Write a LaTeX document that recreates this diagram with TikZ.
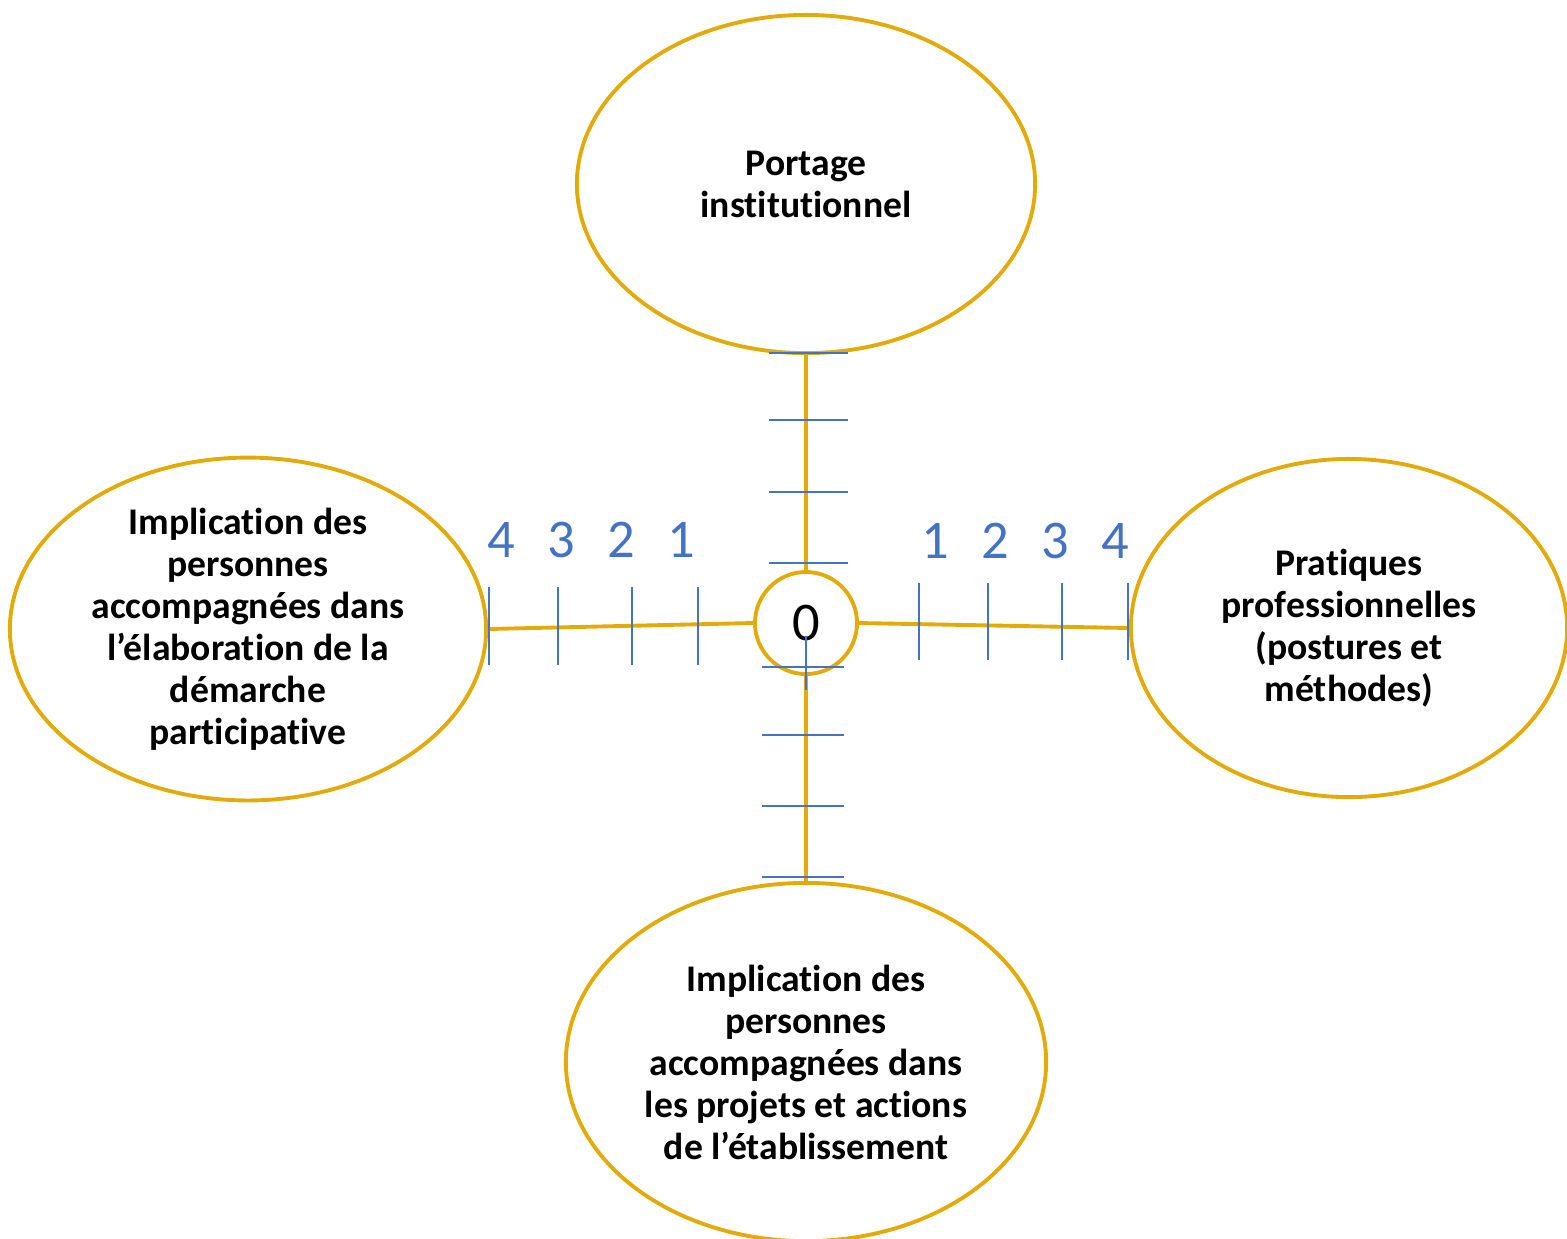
\documentclass[tikz,border=0pt]{standalone}
\usepackage{fontspec}
\setmainfont{Carlito}[Ligatures={NoCommon}]
\usepackage{tikz}
\usetikzlibrary{shapes.geometric}
\definecolor{axisgold}{RGB}{226,171,10}
\definecolor{tickblue}{RGB}{68,114,196}

\begin{document}
\begin{tikzpicture}[x=0.01cm,y=-0.01cm,
pole/.style={ellipse, draw=axisgold, line width=1.1pt, inner sep=0pt, align=center,
    font=\fontsize{10.7pt}{11.95pt}\selectfont\bfseries},
axis/.style={draw=axisgold, line width=1.1pt},
tick/.style={draw=tickblue, line width=0.45pt},
num/.style={text=tickblue, inner sep=0pt, font=\fontsize{15.5pt}{18pt}\selectfont}]
\useasboundingbox (0,0) rectangle (1567,1238);
% the four poles
\node[pole, minimum width=4.58cm, minimum height=3.38cm] (portage) at (806,184)
  {Portage\\institutionnel};
\node[pole, minimum width=4.76cm, minimum height=3.36cm] (elabo) at (248,629)
  {Implication des\\personnes\\accompagnées dans\\l’élaboration de la\\démarche\\participative};
\node[pole, minimum width=4.36cm, minimum height=3.38cm] (pratiques) at (1349,628)
  {Pratiques\\professionnelles\\(postures et\\méthodes)};
\node[pole, minimum width=4.80cm, minimum height=3.58cm] (projets) at (806,1062)
  {Implication des\\personnes\\accompagnées dans\\les projets et actions\\de l’établissement};
\node[circle, draw=axisgold, line width=1.1pt, minimum size=1.02cm, inner sep=0pt,
  font=\fontsize{15.5pt}{18pt}\selectfont] (zero) at (806,623) {0};
% axes
\draw[axis] (elabo.east) -- (zero.west);
\draw[axis] (zero.east) -- (pratiques.west);
\draw[axis] (portage.south) -- (zero.north);
\draw[axis] (zero.south) -- (projets.north);
% ticks
\foreach \x in {489,558,632,698} \draw[tick] (\x,587) -- (\x,665);
\foreach \x in {919,988,1062,1128} \draw[tick] (\x,583) -- (\x,660);
\foreach \y in {353,420,492,563} \draw[tick] (769,\y) -- (848,\y);
\foreach \y in {667,735,806,877} \draw[tick] (762,\y) -- (844,\y);
\draw[tick] (806,636) -- (806,690);
% scale numbers
\foreach \n/\x in {4/501,3/561,2/621,1/681} \node[num] (gauche\n) at (\x,540) {\n};
\foreach \n/\x in {1/935,2/995,3/1055,4/1115} \node[num] (droite\n) at (\x,541) {\n};
\end{tikzpicture}
\end{document}
